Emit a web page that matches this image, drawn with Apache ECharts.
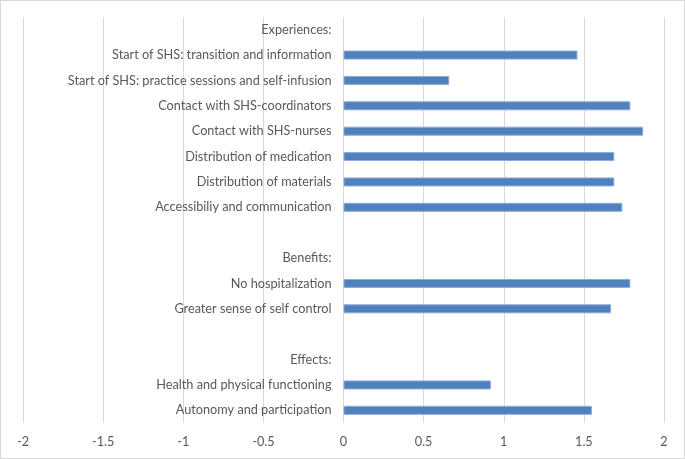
<!DOCTYPE html>
<html>
<head>
<meta charset="utf-8">
<script src="https://cdn.jsdelivr.net/npm/echarts@6/dist/echarts.min.js"></script>
<style>
html,body{margin:0;padding:0;background:#fff;}
#wrap{position:absolute;left:0;top:0;width:683px;height:457px;border:1px solid #d9d9d9;}
#chart{width:685px;height:459px;position:absolute;left:0;top:0;}
</style>
</head>
<body>
<div id="wrap"></div>
<div id="chart"></div>
<script>
var categories = [
  'Experiences:',
  'Start of SHS: transition and information',
  'Start of SHS: practice sessions and self-infusion',
  'Contact with SHS-coordinators',
  'Contact with SHS-nurses',
  'Distribution of medication',
  'Distribution of materials',
  'Accessibiliy and communication',
  ' ',
  'Benefits:',
  'No hospitalization',
  'Greater sense of self control',
  '  ',
  'Effects:',
  'Health and physical functioning',
  'Autonomy and participation'
];
var values = [null, 1.46, 0.66, 1.79, 1.87, 1.69, 1.69, 1.74, null, null, 1.79, 1.67, null, null, 0.92, 1.55];
var xTicks = [-2, -1.5, -1, -0.5, 0, 0.5, 1, 1.5, 2];

var W = 685, gridLeft = 23, gridRight = 21;
var zeroOffset = -((W - gridLeft - gridRight) * (0 - xTicks[0]) / (xTicks[xTicks.length - 1] - xTicks[0]));

var chart = echarts.init(document.getElementById('chart'), null, {renderer: 'canvas'});
chart.setOption({
  animation: false,
  grid: {left: gridLeft, right: gridRight, top: 17, bottom: 36, containLabel: false, outerBoundsMode: 'none'},
  xAxis: {
    type: 'value',
    min: xTicks[0], max: xTicks[xTicks.length - 1], interval: 0.5,
    axisLine: {show: false},
    axisTick: {show: false},
    splitLine: {show: true, lineStyle: {color: '#d9d9d9', width: 1}},
    axisLabel: {color: '#595959', fontFamily: 'Lato', fontSize: 12.7, margin: 12,
      formatter: function (v) { return String(v); }}
  },
  yAxis: {
    type: 'category',
    inverse: true,
    position: 'left',
    offset: zeroOffset,
    data: categories,
    axisLine: {show: false, onZero: false},
    axisTick: {show: false},
    splitLine: {show: false},
    axisLabel: {color: '#595959', fontFamily: 'Lato', fontSize: 12.7, margin: 12, interval: 0}
  },
  series: [{
    type: 'bar',
    data: values,
    barWidth: 9,
    itemStyle: {color: '#4f81bd', borderColor: '#8eaadb', borderWidth: 1},
    silent: true
  }]
});
</script>
</body>
</html>
